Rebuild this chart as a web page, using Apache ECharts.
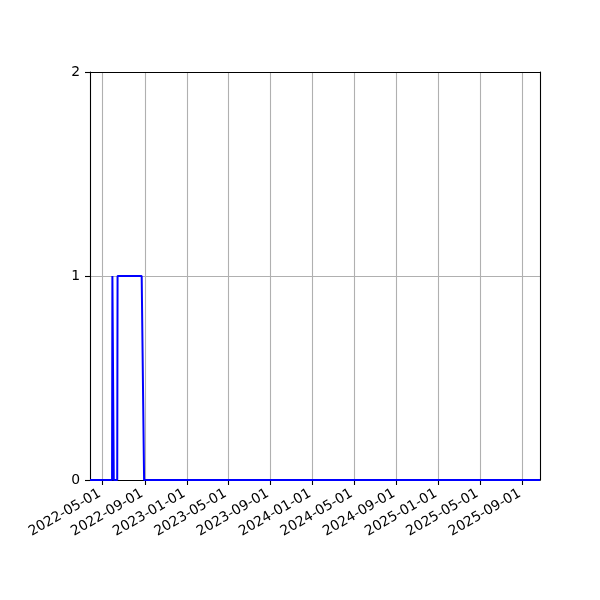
<!DOCTYPE html>
<html>
<head>
<meta charset="utf-8">
<script src="https://cdn.jsdelivr.net/npm/echarts@6/dist/echarts.min.js"></script>
<style>
html,body{margin:0;padding:0;background:#fff;}
#chart{width:600px;height:600px;}
</style>
</head>
<body>
<div id="chart"></div>
<script>
// Data (change points of the series)
const dates = ['2022-03-26', '2022-05-29', '2022-05-30', '2022-06-02', '2022-06-03', '2022-06-13', '2022-06-14', '2022-08-23', '2022-08-30', '2025-10-22'];
const values = [0, 0, 1, 1, 0, 0, 1, 1, 0, 0];
const xTicks = ['2022-05-01', '2022-09-01', '2023-01-01', '2023-05-01', '2023-09-01', '2024-01-01', '2024-05-01', '2024-09-01', '2025-01-01', '2025-05-01', '2025-09-01'];
const xMin = '2022-03-26';
const xMax = '2025-10-22';
const yTicks = [0, 1, 2];

const ts = s => Date.parse(s + 'T00:00:00Z');
const fmt = v => new Date(v).toISOString().slice(0, 10);

const chart = echarts.init(document.getElementById('chart'), null, {renderer: 'canvas'});
const font = 'DejaVu Sans';
const tickVals = xTicks.map(ts);
const spine = {show: true, onZero: false, lineStyle: {color: '#000', width: 1.1}};
const option = {
  animation: false,
  backgroundColor: '#fff',
  grid: {left: 90, right: 60, top: 72, bottom: 120},
  xAxis: [{
    type: 'value',
    min: ts(xMin),
    max: ts(xMax),
    axisLine: spine,
    axisTick: {show: true, length: 5, lineStyle: {color: '#000', width: 1.1}, customValues: tickVals},
    splitLine: {show: true, lineStyle: {color: '#b0b0b0', width: 1.1}},
    axisLabel: {
      customValues: tickVals,
      rotate: 30,
      margin: 11,
      padding: [0, 3, 0, 0],
      fontFamily: font,
      fontSize: 13.9,
      color: '#000',
      formatter: v => fmt(v)
    }
  }, {
    type: 'value',
    position: 'top',
    min: ts(xMin),
    max: ts(xMax),
    axisLine: spine,
    axisTick: {show: false},
    axisLabel: {show: false},
    splitLine: {show: false}
  }],
  yAxis: [{
    type: 'value',
    min: yTicks[0],
    max: yTicks[yTicks.length - 1],
    interval: 1,
    axisLine: spine,
    axisTick: {show: true, length: 5, lineStyle: {color: '#000', width: 1.1}},
    splitLine: {show: true, showMaxLine: false, lineStyle: {color: '#b0b0b0', width: 1.1}},
    axisLabel: {margin: 10, fontFamily: font, fontSize: 13.9, color: '#000'}
  }, {
    type: 'value',
    position: 'right',
    min: yTicks[0],
    max: yTicks[yTicks.length - 1],
    axisLine: spine,
    axisTick: {show: false},
    axisLabel: {show: false},
    splitLine: {show: false}
  }],
  series: [{
    type: 'line',
    data: dates.map((d, i) => [ts(d), values[i]]),
    showSymbol: false,
    symbol: 'none',
    lineStyle: {color: '#0000ff', width: 2},
    z: 1
  }]
};
chart.setOption(option);
</script>
</body>
</html>
